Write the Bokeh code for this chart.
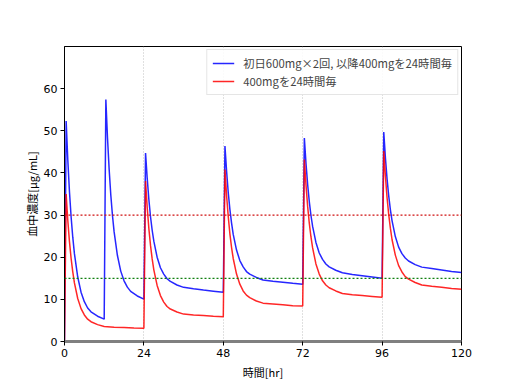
from bokeh.plotting import figure
from bokeh.models import Span, Legend, LegendItem, FixedTicker
from bokeh.embed import file_html
from bokeh.resources import INLINE

# ---- data ----
t_red = [0, 0.5, 1, 1.5, 2, 2.5, 3, 4, 5, 6, 7, 8, 10, 12, 15, 18, 21,
         24, 24.5, 25, 25.5, 26, 26.5, 27, 28, 29, 30, 31, 32, 34, 36, 39, 42, 45,
         48, 48.5, 49, 49.5, 50, 50.5, 51, 52, 53, 54, 55, 56, 58, 60, 63, 66, 69,
         72, 72.5, 73, 73.5, 74, 74.5, 75, 76, 77, 78, 79, 80, 82, 84, 87, 90, 93,
         96, 96.5, 97, 97.5, 98, 98.5, 99, 100, 101, 102, 103, 104, 106, 108, 111, 114, 117,
         120]
c_red = [0, 35.0, 28.7, 23.7, 19.7, 16.5, 13.9, 10.2, 7.8, 6.3, 5.3, 4.7, 4.0, 3.55, 3.4, 3.3, 3.2,
         3.15, 38.1, 31.8, 26.8, 22.8, 19.6, 17.0, 13.3, 10.9, 9.35, 8.3, 7.7, 7.0, 6.5, 6.3, 6.15, 6.0,
         5.9, 40.8, 34.6, 29.6, 25.5, 22.3, 19.7, 16.0, 13.6, 12.0, 11.0, 10.4, 9.6, 9.1, 8.9, 8.7, 8.5,
         8.4, 43.2, 37.1, 32.0, 28.0, 24.8, 22.2, 18.4, 16.0, 14.4, 13.4, 12.75, 12.0, 11.4, 11.1, 10.9, 10.7,
         10.5, 45.2, 39.2, 34.1, 30.1, 26.9, 24.2, 20.5, 18.0, 16.5, 15.4, 14.8, 14.0, 13.4, 13.1, 12.9, 12.6,
         12.4]

t_blue = [0, 0.5, 1, 1.5, 2, 2.5, 3, 4, 5, 6, 7, 8, 10,
          12, 12.5, 13, 13.5, 14, 14.5, 15, 16, 17, 18, 19, 20, 22,
          24, 24.5, 25, 25.5, 26, 26.5, 27, 28, 29, 30, 31, 32, 34, 36, 39, 42, 45,
          48, 48.5, 49, 49.5, 50, 50.5, 51, 52, 53, 54, 55, 56, 58, 60, 63, 66, 69,
          72, 72.5, 73, 73.5, 74, 74.5, 75, 76, 77, 78, 79, 80, 82, 84, 87, 90, 93,
          96, 96.5, 97, 97.5, 98, 98.5, 99, 100, 101, 102, 103, 104, 106, 108, 111, 114, 117,
          120]
c_blue = [0, 52.3, 43.05, 35.55, 29.55, 24.75, 20.85, 15.3, 11.7, 9.45, 7.95, 7.05, 6.0,
          5.3, 57.4, 48.3, 40.8, 34.7, 29.9, 26.0, 20.4, 16.7, 14.4, 12.9, 11.9, 10.8,
          10.05, 44.7, 38.7, 33.7, 29.6, 26.4, 23.8, 20.0, 17.5, 16.0, 14.9, 14.25, 13.4, 12.85, 12.5, 12.2, 11.95,
          11.7, 46.4, 40.35, 35.3, 31.3, 28.1, 25.4, 21.7, 19.2, 17.7, 16.6, 16.0, 15.2, 14.6, 14.3, 14.05, 13.8,
          13.6, 48.3, 42.2, 37.2, 33.15, 29.9, 27.3, 23.5, 21.0, 19.5, 18.4, 17.7, 16.9, 16.3, 15.9, 15.6, 15.3,
          15.0, 49.7, 43.6, 38.6, 34.55, 31.3, 28.7, 24.9, 22.4, 20.85, 19.8, 19.1, 18.25, 17.65, 17.3, 16.95, 16.6,
          16.4]

label_blue = "初日600mg×2回, 以降400mgを24時間毎"
label_red = "400mgを24時間毎"
upper_limit = 30
lower_limit = 15
x_ticks = [0, 24, 48, 72, 96, 120]
y_ticks = [0, 10, 20, 30, 40, 50, 60]
x_label = "時間[hr]"
y_label = "血中濃度[μg/mL]"

JP = "Noto Sans CJK JP"

p = figure(frame_width=397, frame_height=295,
           min_border_left=64, min_border_right=40, min_border_top=46, min_border_bottom=34,
           x_range=(0, 120), y_range=(0, 70),
           output_backend="svg", toolbar_location=None)
p.outline_line_color = "black"
p.outline_line_width = 1
p.background_fill_color = "white"

# grid
p.ygrid.visible = False
p.xgrid.ticker = FixedTicker(ticks=x_ticks)
p.xgrid.grid_line_color = "#b0b0b0"
p.xgrid.grid_line_dash = "1 2"
p.xgrid.grid_line_width = 0.8

for ax in (p.xaxis[0], p.yaxis[0]):
    ax.major_tick_in = 0
    ax.major_tick_out = 4
    ax.minor_tick_line_color = None
    ax.major_tick_line_color = "black"
    ax.major_label_text_font = "DejaVu Sans"
    ax.major_label_text_font_size = "11px"
    ax.major_label_text_color = "black"
    ax.axis_label_text_font = JP
    ax.axis_label_text_font_size = "11px"
    ax.axis_label_text_font_style = "normal"
    ax.axis_label_text_color = "black"

p.xaxis.ticker = FixedTicker(ticks=x_ticks)
p.yaxis.ticker = FixedTicker(ticks=y_ticks)
p.xaxis.axis_label = x_label
p.yaxis.axis_label = y_label
p.xaxis.axis_line_color = "gray"
p.xaxis.axis_line_width = 3
p.yaxis.axis_line_color = "black"
p.xaxis.major_label_standoff = 3
p.yaxis.major_label_standoff = 3
p.xaxis.axis_label_standoff = 4
p.yaxis.axis_label_standoff = 1

p.add_layout(Span(location=upper_limit, dimension="width", line_color="#d01010",
                  line_dash="2 2", line_width=1.2))
p.add_layout(Span(location=lower_limit, dimension="width", line_color="#108010",
                  line_dash="2 2", line_width=1.2))

rb = p.line(t_blue, c_blue, line_color="blue", line_alpha=0.85, line_width=1.5)
rr = p.line(t_red, c_red, line_color="red", line_alpha=0.85, line_width=1.5)

legend = Legend(items=[LegendItem(label=label_blue, renderers=[rb]),
                       LegendItem(label=label_red, renderers=[rr])],
                location="top_right")
legend.label_text_font = JP
legend.label_text_font_size = "11.3px"
legend.glyph_width = 22
legend.glyph_height = 16
legend.label_height = 16
legend.label_standoff = 9
legend.spacing = 2
legend.padding = 5
legend.margin = 3
legend.border_line_color = "#cccccc"
legend.border_line_width = 1
legend.background_fill_alpha = 0.85
p.add_layout(legend)

open("out.html", "w").write(file_html(p, INLINE))
